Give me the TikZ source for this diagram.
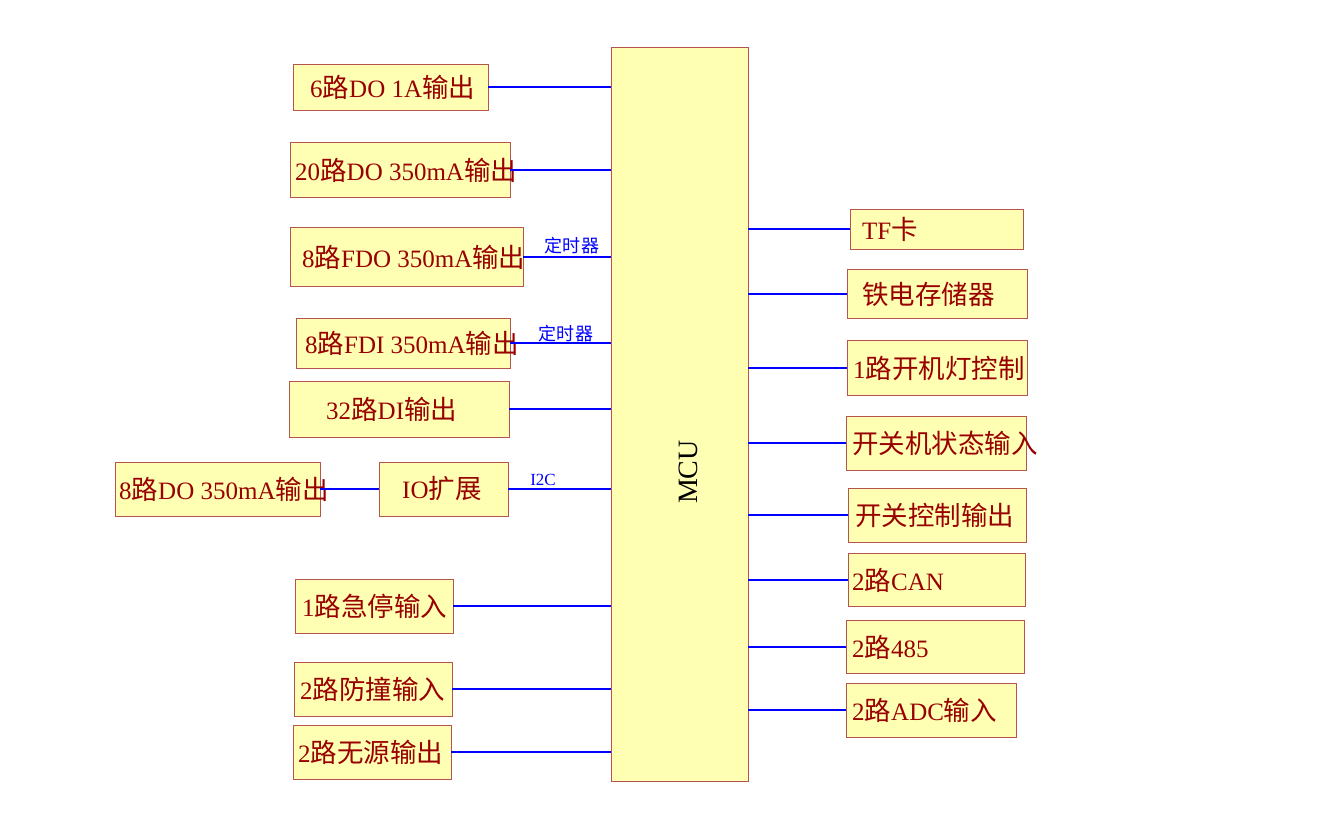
\documentclass[tikz,border=0pt]{standalone}
\usepackage{fontspec}
\setmainfont{Liberation Serif}
\newfontfamily\cjk[Scale=1.06]{Noto Sans CJK SC}
\newcommand\zh[1]{{\cjk #1}}
\definecolor{boxfill}{HTML}{FFFFB3}
\definecolor{boxdraw}{HTML}{B85450}
\definecolor{txtred}{HTML}{990000}
\definecolor{wire}{HTML}{0000FF}
\begin{document}
\begin{tikzpicture}[x=1pt,y=-1pt,
  blk/.style={draw=boxdraw,fill=boxfill,line width=1pt,inner sep=0pt,outer sep=0pt},
  txt/.style={text=txtred,font=\fontsize{25}{28}\selectfont,inner sep=0pt,anchor=west},
  conn/.style={draw=wire,line width=2pt},
  lbl/.style={text=wire,font=\fontsize{17}{19}\selectfont,inner sep=0pt,anchor=base}]
\useasboundingbox (0,0) rectangle (1334,830);
% MCU
\node[blk,minimum width=137pt,minimum height=734pt] (mcu) at (679.5,414) {};
\node[rotate=90,font=\fontsize{28}{30}\selectfont,inner sep=0pt] (mcut) at (688,472) {MCU};
% left boxes
\node[blk,minimum width=195pt,minimum height=46pt] (l1) at (390.5,87) {};
\node[txt] (l1t) at (310,87) {6\zh{路}DO 1A\zh{输出}};
\node[blk,minimum width=220pt,minimum height=55pt] (l2) at (400,170) {};
\node[txt] (l2t) at (295,170) {20\zh{路}DO 350mA\zh{输出}};
\node[blk,minimum width=233pt,minimum height=59pt] (l3) at (406.5,257) {};
\node[txt] (l3t) at (302,257) {8\zh{路}FDO 350mA\zh{输出}};
\node[blk,minimum width=214pt,minimum height=50pt] (l4) at (403,343) {};
\node[txt] (l4t) at (305,343) {8\zh{路}FDI 350mA\zh{输出}};
\node[blk,minimum width=220pt,minimum height=56pt] (l5) at (399,409) {};
\node[txt] (l5t) at (326,409) {32\zh{路}DI\zh{输出}};
\node[blk,minimum width=205pt,minimum height=54pt] (l6) at (217.5,489) {};
\node[txt] (l6t) at (119,489) {8\zh{路}DO 350mA\zh{输出}};
\node[blk,minimum width=129pt,minimum height=54pt] (io) at (443.5,489) {};
\node[txt] (iot) at (402,489) {IO\zh{扩展}};
\node[blk,minimum width=158pt,minimum height=54pt] (l8) at (374,606) {};
\node[txt] (l8t) at (302,606) {1\zh{路急停输入}};
\node[blk,minimum width=158pt,minimum height=54pt] (l9) at (373,689) {};
\node[txt] (l9t) at (300,689) {2\zh{路防撞输入}};
\node[blk,minimum width=158pt,minimum height=54pt] (l10) at (372,752) {};
\node[txt] (l10t) at (298,752) {2\zh{路无源输出}};
% right boxes
\node[blk,minimum width=173pt,minimum height=40pt] (r1) at (936.5,229) {};
\node[txt] (r1t) at (862,229) {TF\zh{卡}};
\node[blk,minimum width=180pt,minimum height=49pt] (r2) at (937,294) {};
\node[txt] (r2t) at (862,294) {\zh{铁电存储器}};
\node[blk,minimum width=180pt,minimum height=55pt] (r3) at (937,368) {};
\node[txt] (r3t) at (853,368) {1\zh{路开机灯控制}};
\node[blk,minimum width=180pt,minimum height=54pt] (r4) at (936,443) {};
\node[txt] (r4t) at (852,443) {\zh{开关机状态输入}};
\node[blk,minimum width=178pt,minimum height=54pt] (r5) at (937,515) {};
\node[txt] (r5t) at (855,515) {\zh{开关控制输出}};
\node[blk,minimum width=177pt,minimum height=53pt] (r6) at (936.5,580) {};
\node[txt] (r6t) at (852,580) {2\zh{路}CAN};
\node[blk,minimum width=178pt,minimum height=53pt] (r7) at (935,647) {};
\node[txt] (r7t) at (852,647) {2\zh{路}485};
\node[blk,minimum width=170pt,minimum height=54pt] (r8) at (931,710) {};
\node[txt] (r8t) at (852,710) {2\zh{路}ADC\zh{输入}};
% connectors left
\foreach \n in {l1,l2,l3,l4,l5,io,l8,l9,l10}
  \draw[conn] (\n.east) -- (\n.east -| mcu.west);
\draw[conn] (l6.east) -- (io.west);
% connectors right
\foreach \n in {r1,r2,r3,r4,r5,r6,r7,r8}
  \draw[conn] (\n.west -| mcu.east) -- (\n.west);
% labels
\node[lbl] (t1) at (572,252) {\zh{定时器}};
\node[lbl] (t2) at (566,340) {\zh{定时器}};
\node[lbl] (i2c) at (543,485) {I2C};
\end{tikzpicture}
\end{document}
